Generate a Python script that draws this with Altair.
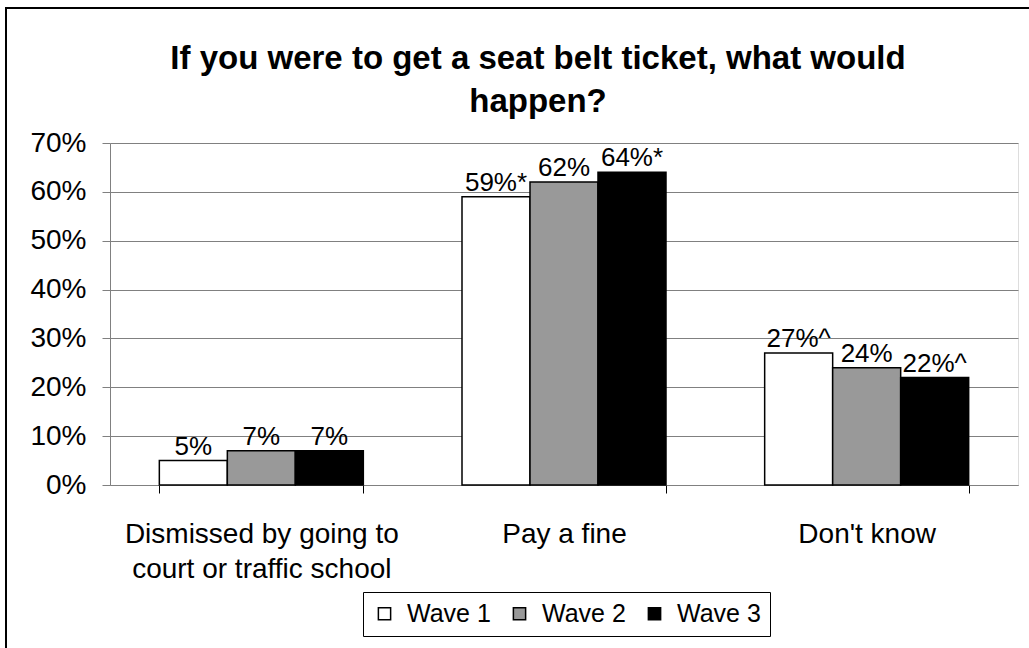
import altair as alt
import pandas as pd

categories = ["Dismissed by going to court or traffic school", "Pay a fine", "Don't know"]
waves = ["Wave 1", "Wave 2", "Wave 3"]
values = {
    "Wave 1": [0.05, 0.59, 0.27],
    "Wave 2": [0.07, 0.62, 0.24],
    "Wave 3": [0.07, 0.64, 0.22],
}
labels = {
    "Wave 1": ["5%", "59%*", "27%^"],
    "Wave 2": ["7%", "62%", "24%"],
    "Wave 3": ["7%", "64%*", "22%^"],
}
title_lines = ["If you were to get a seat belt ticket, what would", "happen?"]

rows = []
for w in waves:
    for i, c in enumerate(categories):
        rows.append({"category": c, "wave": w, "value": values[w][i], "label": labels[w][i]})
df = pd.DataFrame(rows)

FONT = "Liberation Sans"
W, H = 908, 342

xenc = alt.X("category:N", sort=categories, title=None,
             scale=alt.Scale(paddingInner=0.326, paddingOuter=0.163),
             axis=alt.Axis(labelAngle=0, tickBand="extent", tickSize=8, tickColor="#000000",
                           domainColor="#808080", labelFontSize=28, labelFont=FONT,
                           labelColor="#000000", labelPadding=27, labelLineHeight=35,
                           labelBaseline="top", labelLimit=0,
                           labelExpr="datum.label == 'Dismissed by going to court or traffic school' ? ['Dismissed by going to', 'court or traffic school'] : datum.label"))

bars = alt.Chart(df).mark_bar(stroke="#000000", strokeWidth=1.5).encode(
    x=xenc,
    xOffset=alt.XOffset("wave:N", sort=waves),
    y=alt.Y("value:Q", title=None,
            scale=alt.Scale(domain=[0, 0.7]),
            axis=alt.Axis(format=".0%", values=[0, 0.1, 0.2, 0.3, 0.4, 0.5, 0.6, 0.7],
                          tickSize=8, tickColor="#808080", domainColor="#808080",
                          gridColor="#808080", gridWidth=1, labelFontSize=28, labelFont=FONT,
                          labelColor="#000000", labelPadding=16)),
    fill=alt.Fill("wave:N", sort=waves,
                  scale=alt.Scale(domain=waves, range=["#ffffff", "#999999", "#000000"]),
                  legend=alt.Legend(title=None, orient="none", legendX=253, legendY=449,
                                    direction="horizontal", symbolType="square", symbolSize=150,
                                    symbolStrokeColor="#000000", symbolStrokeWidth=1.5,
                                    labelFontSize=25, labelFont=FONT, labelColor="#000000",
                                    strokeColor="#000000", padding=9, columnPadding=16,
                                    labelOffset=10, fillColor="#ffffff")),
)

text = alt.Chart(df).mark_text(baseline="bottom", dy=-1, fontSize=26, font=FONT, color="#000000").encode(
    x=alt.X("category:N", sort=categories),
    xOffset=alt.XOffset("wave:N", sort=waves),
    y=alt.Y("value:Q"),
    text="label:N",
)

frame = alt.Chart(df).mark_rect(fill=None, stroke="#000000", strokeWidth=2, clip=False).encode(
    x=alt.value(-104), y=alt.value(-135), x2=alt.value(1000), y2=alt.value(600)
)

title = alt.Chart(pd.DataFrame({"t": [title_lines]})).mark_text(
    fontSize=33, font=FONT, fontWeight="bold", color="#000000", align="center",
    baseline="alphabetic", lineHeight=43,
).encode(x=alt.value(428), y=alt.value(-74), text="t")

chart = alt.layer(frame, bars, text, title).properties(
    width=W, height=H,
    autosize=alt.AutoSizeParams(type="none"),
    padding={"left": 110, "top": 143, "right": 11, "bottom": 163},
).configure_view(stroke=None).configure(background="#ffffff")

chart.save("out.html", embed_options={"renderer": "svg", "actions": False})
